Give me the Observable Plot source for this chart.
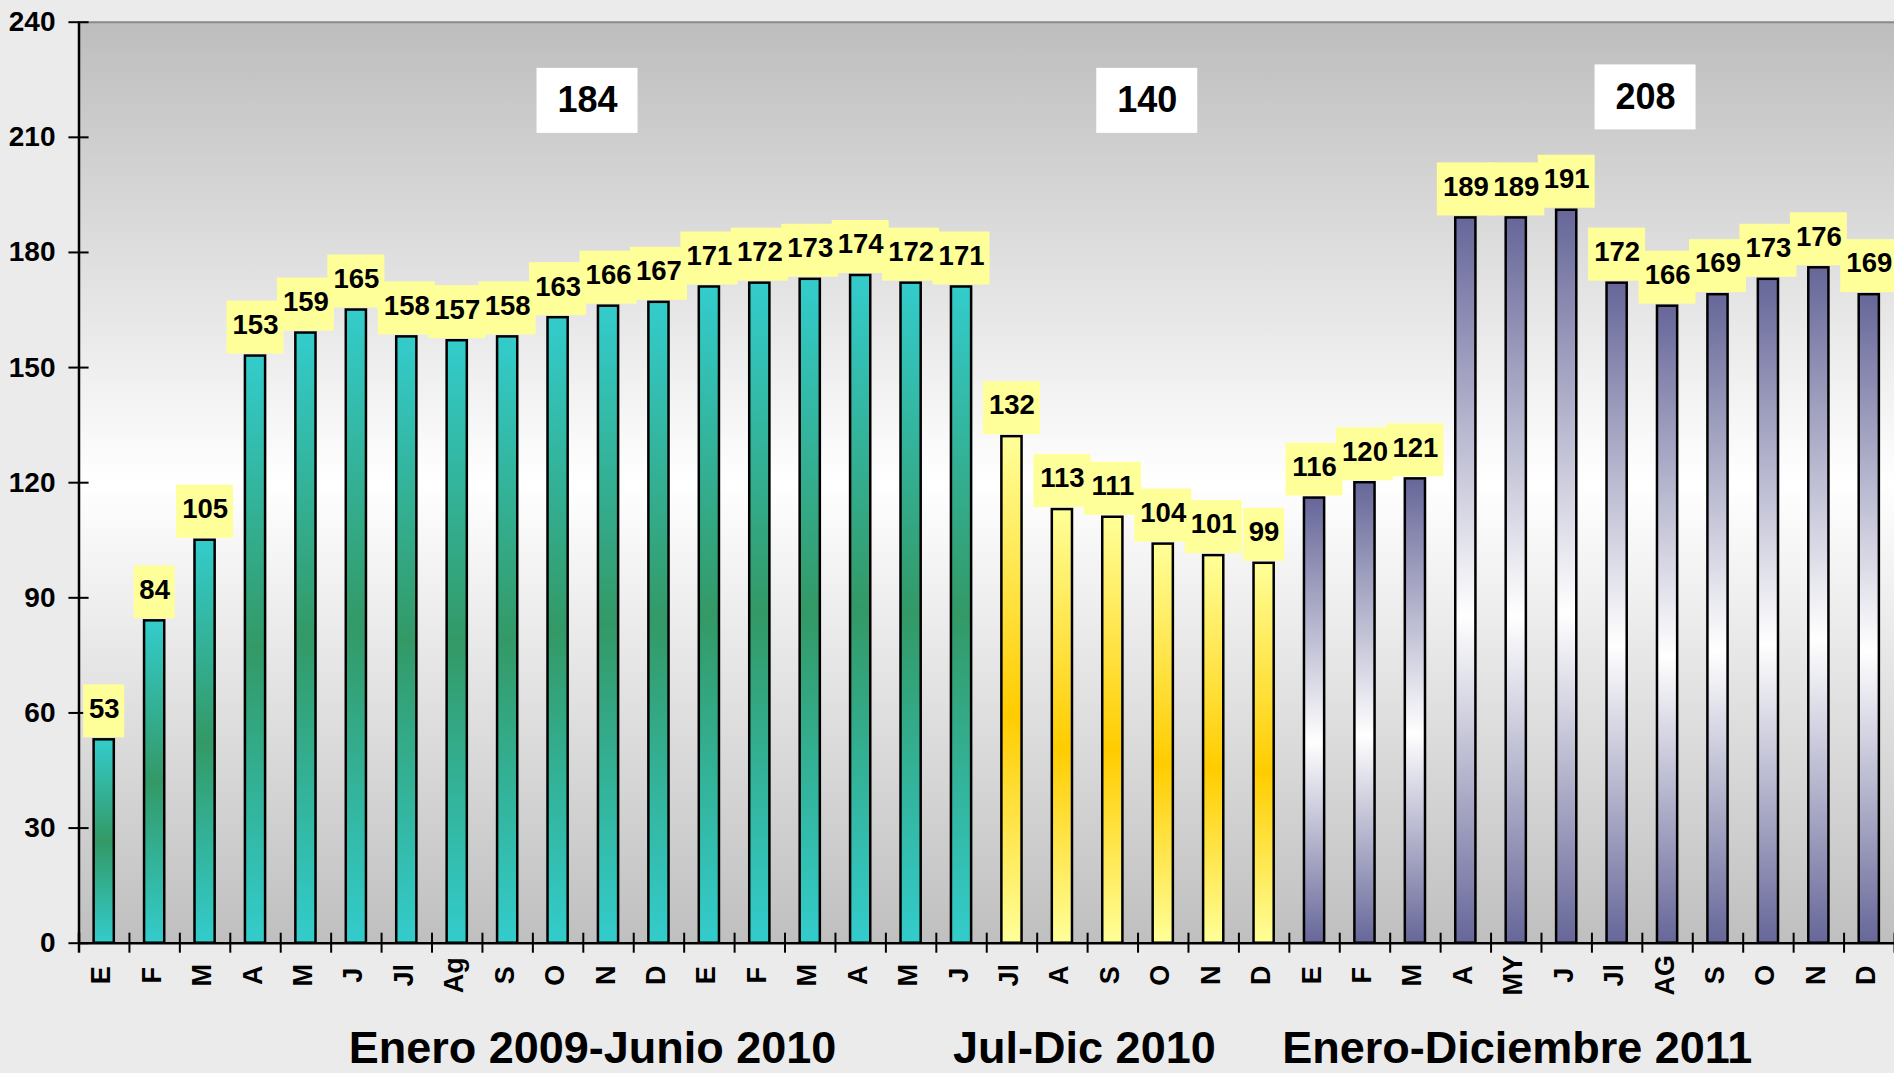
<!DOCTYPE html>
<html><head><meta charset="utf-8">
<script src="https://cdn.jsdelivr.net/npm/d3@7"></script>
<script src="https://cdn.jsdelivr.net/npm/@observablehq/plot@0.6"></script>
<style>
html,body{margin:0;padding:0;background:#ebebeb;}
#chart svg{display:block;overflow:visible;}
</style></head><body><div id="chart"></div>
<script>
// ---- data ----
const monthLabels = ["E","F","M","A","M","J","Jl","Ag","S","O","N","D",
  "E","F","M","A","M","J",
  "Jl","A","S","O","N","D",
  "E","F","M","A","MY","J","Jl","AG","S","O","N","D"];
const values = [53,84,105,153,159,165,158,157,158,163,166,167,
  171,172,173,174,172,171,
  132,113,111,104,101,99,
  116,120,121,189,189,191,172,166,169,173,176,169];
const groupNames = ["Enero 2009-Junio 2010","Jul-Dic 2010","Enero-Diciembre 2011"];
const groupSizes = [18, 6, 12];
const groupTotals = [184, 140, 208];
const yTicks = [0,30,60,90,120,150,180,210,240];

// ---- layout ----
const W = 1894, H = 1073, mL = 78.5, mR = 0, mT = 21.7, mB = 130.3;
const n = monthLabels.length;
const step = (W - mL - mR) / n;
const bw = step * 0.4;
const pxPerUnit = (H - mT - mB) / 240;
const font = "'Liberation Sans', Arial, Helvetica, sans-serif";

const keys = monthLabels.map((_, i) => String(i));
const groupOf = [];
groupSizes.forEach((s, g) => { for (let i = 0; i < s; i++) groupOf.push(g); });
const data = values.map((v, i) => ({key: keys[i], label: monthLabels[i], value: v, group: groupOf[i]}));

// anchors (band key + pixel offset) for group texts
const totalAnchor = [{key: "10", dx: -21, y: 219.5}, {key: "21", dx: -16, y: 219.5}, {key: "31", dx: -22, y: 220.4}];
const nameAnchor = [{key: "10", dx: -16}, {key: "19", dx: 22}, {key: "28", dx: 1}];

const defs = () => {
  const ns = "http://www.w3.org/2000/svg";
  const d = document.createElementNS(ns, "defs");
  d.innerHTML = `
  <linearGradient id="bgGrad" x1="0" y1="0" x2="0" y2="1">
    <stop offset="0" stop-color="#bdbdbd"/><stop offset="0.5" stop-color="#ffffff"/><stop offset="1" stop-color="#bfbfbf"/>
  </linearGradient>
  <linearGradient id="g0" x1="0" y1="0" x2="0" y2="1">
    <stop offset="0" stop-color="#33cccc"/><stop offset="0.5" stop-color="#339966"/><stop offset="1" stop-color="#33cccc"/>
  </linearGradient>
  <linearGradient id="g1" x1="0" y1="0" x2="0" y2="1">
    <stop offset="0" stop-color="#ffff99"/><stop offset="0.55" stop-color="#ffcc00"/><stop offset="1" stop-color="#ffff99"/>
  </linearGradient>
  <linearGradient id="g2" x1="0" y1="0" x2="0" y2="1">
    <stop offset="0" stop-color="#666699"/><stop offset="0.55" stop-color="#ffffff"/><stop offset="1" stop-color="#666699"/>
  </linearGradient>`;
  return d;
};

const textCommon = {fontFamily: font, fontWeight: "bold", fill: "black"};

const marks = [
  defs,
  Plot.frame({fill: "url(#bgGrad)", stroke: "none"}),
  Plot.ruleY([240], {stroke: "#8a8a8a", strokeWidth: 2}),
  ...[0, 1, 2].map(g => Plot.barY(data.filter(d => d.group === g), {
    x: "key", y: "value", fill: `url(#g${g})`, stroke: "black", strokeWidth: 2.5
  })),
  Plot.ruleY([0], {stroke: "black", strokeWidth: 2.5}),
  Plot.ruleX([keys[0]], {x: d => d, y1: 0, y2: 240, dx: -step / 2, stroke: "black", strokeWidth: 2.5}),
  Plot.tickY(yTicks, {x: () => keys[0], y: d => d, dx: -step / 2, stroke: "black", strokeWidth: 2}),
  Plot.ruleX(keys, {x: d => d, y1: 0, y2: 20 / pxPerUnit, dy: 10, dx: step / 2, stroke: "black", strokeWidth: 2}),
  Plot.ruleX([keys[0]], {x: d => d, y1: 0, y2: 20 / pxPerUnit, dy: 10, dx: -step / 2, stroke: "black", strokeWidth: 2.5}),
  // value label boxes
  Plot.barY(data.filter(d => d.value < 100), {x: "key", y1: "value", y2: "value",
    insetTop: -55, insetBottom: 2, insetLeft: -(41 - bw) / 2, insetRight: -(41 - bw) / 2, fill: "#ffff99"}),
  Plot.barY(data.filter(d => d.value >= 100), {x: "key", y1: "value", y2: "value",
    insetTop: -55, insetBottom: 2, insetLeft: -(57 - bw) / 2, insetRight: -(57 - bw) / 2, fill: "#ffff99"}),
  Plot.text(data, {x: "key", y: "value", text: d => String(d.value), dy: -31, fontSize: 27.5, ...textCommon}),
  // group totals
  ...groupTotals.map((t, g) => Plot.barY([t], {x: () => totalAnchor[g].key, y1: () => totalAnchor[g].y, y2: () => totalAnchor[g].y,
    dx: totalAnchor[g].dx, insetTop: -32.5, insetBottom: -32.5, insetLeft: -(101 - bw) / 2, insetRight: -(101 - bw) / 2, fill: "white"})),
  ...groupTotals.map((t, g) => Plot.text([t], {x: () => totalAnchor[g].key, y: () => totalAnchor[g].y, text: d => String(d),
    dx: totalAnchor[g].dx, fontSize: 36, ...textCommon})),
  // x tick labels
  Plot.text(data, {x: "key", frameAnchor: "bottom", text: "label", rotate: -90, dx: 6, dy: 32, textAnchor: "middle", fontSize: 27, ...textCommon}),
  // group names
  ...groupNames.map((name, g) => Plot.text([name], {x: () => nameAnchor[g].key, frameAnchor: "bottom", text: d => d,
    dx: nameAnchor[g].dx, dy: 120, lineAnchor: "bottom", fontSize: 45, ...textCommon})),
  Plot.axisY({ticks: yTicks, tickSize: 0, tickPadding: 23.5, fontSize: 28, fontWeight: "bold", fontFamily: font, fill: "black", label: null})
];

const chart = Plot.plot({
  width: W, height: H,
  marginLeft: mL, marginRight: mR, marginTop: mT, marginBottom: mB,
  x: {domain: keys, paddingInner: 0.6, paddingOuter: 0.3, round: false, axis: null},
  y: {domain: [0, 240], label: null},
  style: {background: "transparent", fontFamily: font, color: "black", overflow: "visible"},
  marks
});
document.getElementById("chart").appendChild(chart);
</script></body></html>
